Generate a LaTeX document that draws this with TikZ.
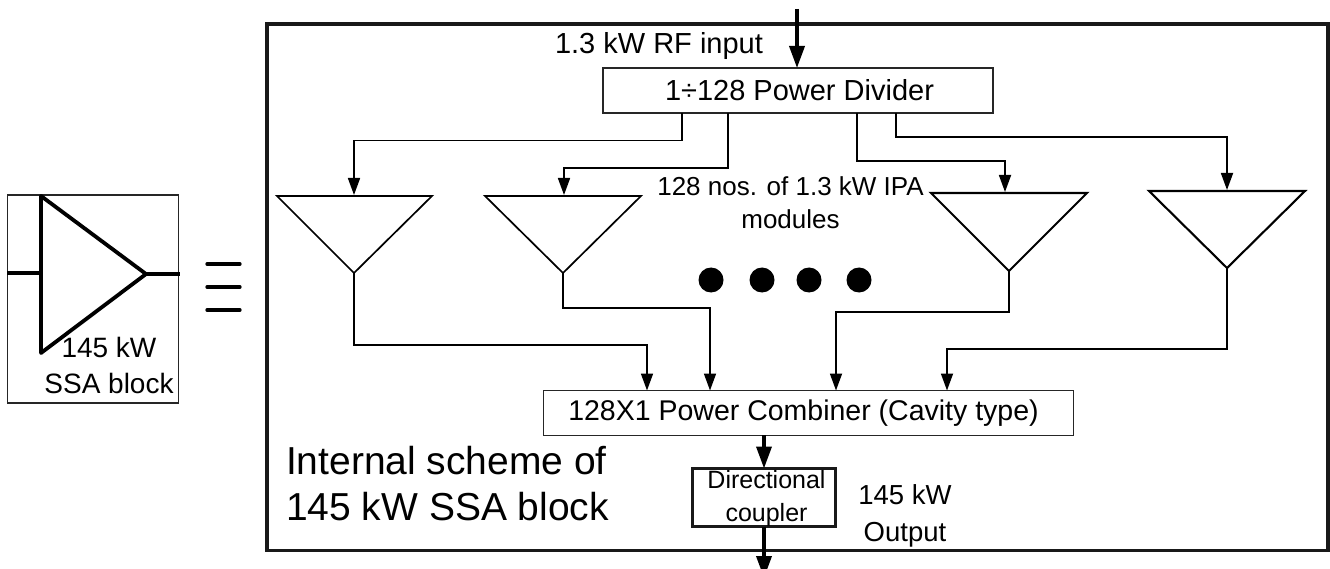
\documentclass[tikz,border=0pt]{standalone}
\usepackage{fontspec}
\setmainfont{Liberation Sans}
\usetikzlibrary{arrows.meta}
\tikzset{
  every node/.style={inner sep=0pt,outer sep=0pt,align=center},
  thinbox/.style={draw=black!85,line width=1.2pt,fill=white},
  thickbox/.style={draw=black!90,line width=3.6pt},
  boldbox/.style={draw=black!90,line width=3.4pt},
  amp/.style={draw=black,line width=1.7pt,line join=miter},
  ampbold/.style={draw=black,line width=3.8pt,line join=round},
  wire/.style={draw=black,line width=1.7pt},
  wirearrow/.style={wire,-{Triangle[length=17pt,width=12pt]}},
  mainarrow/.style={draw=black,line width=3.6pt,-{Triangle[length=22pt,width=15pt]}},
  lead/.style={draw=black,line width=3.2pt},
  eqbar/.style={draw=black,line width=3.3pt,line cap=round},
  lbl/.style={font=\fontsize{29}{36}\selectfont},
  blob/.style={circle,fill=black,minimum size=25pt}
}
\begin{document}
\begin{tikzpicture}[x=1pt,y=-1pt]
\useasboundingbox (0,0) rectangle (1330,569);
% left block
\node[draw=black!85,line width=1.1pt,minimum width=170.5pt,minimum height=208pt] (ssa) at (93,299) {};
\coordinate (ia) at (41,196); \coordinate (ib) at (41,353); \coordinate (ic) at (146,274);
\draw[ampbold] (ia) -- (ib) -- (ic) -- cycle;
\coordinate (il) at (7,273); \coordinate (ilr) at (41,273); \coordinate (ir) at (180,274);
\draw[lead] (il) -- (ilr);
\draw[lead] (ic) -- (ir);
\node[font=\fontsize{28}{36}\selectfont] (ssal) at (109,365) {145 kW\\SSA block};
% equals
\foreach \n/\y in {a/264,b/287,c/310}{
  \coordinate (e\n l) at (207,\y); \coordinate (e\n r) at (240,\y);
  \draw[eqbar] (e\n l) -- (e\n r);
}
% main frame
\node[thickbox,minimum width=1061pt,minimum height=526.5pt] (frame) at (797.5,287.3) {};
% boxes
\node[thinbox,lbl,minimum width=390pt,minimum height=45pt] (div) at (798,90.5) {\hspace*{3pt}1÷128 Power Divider};
\node[thinbox,font=\fontsize{28.5}{36}\selectfont,minimum width=530pt,minimum height=44.5pt] (com) at (808.5,413) {\hspace*{-10pt}128X1 Power Combiner (Cavity type)};
\node[boldbox,minimum width=143pt,minimum height=58pt] (dc) at (764,497.5) {};
\node[font=\fontsize{25}{33}\selectfont] (dctext) at (766.5,498.5) {Directional\\coupler};
\coordinate (tin) at (797,9);
\coordinate (bout) at (764,578);
\draw[mainarrow] (tin) -- (tin |- div.north);
\draw[mainarrow] (dc.north |- com.south) -- (dc.north);
\begin{scope}
\clip (0,0) rectangle (1330,569);
\draw[mainarrow] (dc.south) -- (bout);
\end{scope}
\node[lbl,anchor=west] (rf) at (555,46) {1.3 kW RF input};
\node[font=\fontsize{26}{33}\selectfont] (ipa) at (790.5,203) {128 nos. of 1.3 kW IPA\\modules};
\node[font=\fontsize{27.5}{37}\selectfont] (out) at (905,516) {145 kW\\Output};
\node[font=\fontsize{39}{46}\selectfont,align=left,anchor=west] (scheme) at (286,484) {Internal scheme of\\145 kW SSA block};
% triangles
\draw[amp] (277,196) -- (432,196) -- (354,273) coordinate (t1) -- cycle;
\draw[amp] (485,196) -- (641,196) -- (563,273) coordinate (t2) -- cycle;
\draw[amp,line width=2.1pt] (931,193) -- (1087,193) -- (1009,271) coordinate (t3) -- cycle;
\draw[amp,line width=2.1pt] (1149,191) -- (1305,191) -- (1227,268) coordinate (t4) -- cycle;
\coordinate (t1in) at (354,195); \coordinate (t2in) at (564,195);
\coordinate (t3in) at (1005,192); \coordinate (t4in) at (1227,190);
\coordinate (d1) at (682,113); \coordinate (d2) at (728,113);
\coordinate (d3) at (857,113); \coordinate (d4) at (896,113);
\coordinate (c1) at (647,390.5); \coordinate (c2) at (710,390.5);
\coordinate (c3) at (836,390.5); \coordinate (c4) at (947,390.5);
% divider to amps
\draw[wirearrow] (d1) -- ++(0,27.5) -| (t1in);
\draw[wirearrow] (d2) -- ++(0,55) -| (t2in);
\draw[wirearrow] (d3) -- ++(0,48) -| (t3in);
\draw[wirearrow] (d4) -- ++(0,24) -| (t4in);
% amps to combiner
\draw[wirearrow] (t1) -- ++(0,72) -| (c1);
\draw[wirearrow] (t2) -- ++(0,35) -| (c2);
\draw[wirearrow] (t3) -- ++(0,41) -| (c3);
\draw[wirearrow] (t4) -- ++(0,81) -| (c4);
% dots
\node[blob] (b1) at (711,280) {};
\node[blob] (b2) at (762,280) {};
\node[blob] (b3) at (809,280) {};
\node[blob] (b4) at (859,280) {};
\end{tikzpicture}
\end{document}
